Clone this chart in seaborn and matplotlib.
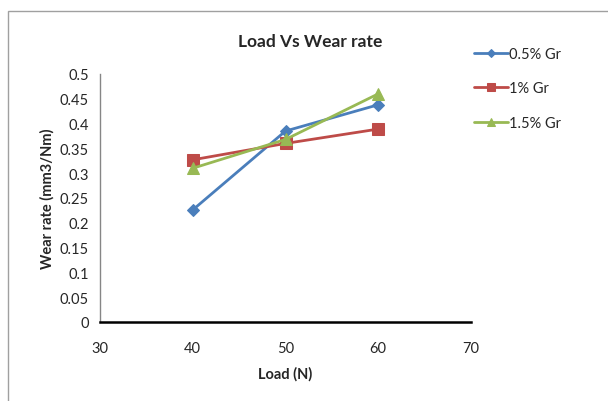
import matplotlib
matplotlib.use("Agg")
import matplotlib.pyplot as plt
import seaborn as sns
import pandas as pd
from matplotlib.patches import Rectangle

load = [40, 50, 60]
gr_05 = [0.226, 0.385, 0.438]
gr_1 = [0.327, 0.360, 0.389]
gr_15 = [0.310, 0.368, 0.460]
series_names = ["0.5% Gr", "1% Gr", "1.5% Gr"]
x_ticks = [30, 40, 50, 60, 70]
y_ticks = [0, 0.05, 0.1, 0.15, 0.2, 0.25, 0.3, 0.35, 0.4, 0.45, 0.5]
y_tick_labels = ["0", "0.05", "0.1", "0.15", "0.2", "0.25", "0.3", "0.35", "0.4", "0.45", "0.5"]

rows = []
for name, vals in zip(series_names, [gr_05, gr_1, gr_15]):
    for x, y in zip(load, vals):
        rows.append({"Load": x, "Wear": y, "Series": name})
df = pd.DataFrame(rows)

sns.set_style("white")
plt.rcParams["font.family"] = ["Lato", "DejaVu Sans"]

fig = plt.figure(figsize=(6.08, 4.02), dpi=100)
ax = fig.add_axes([100/608, 1-323/402, 371/608, 248/402])

colors = ["#4A7EBB", "#BE4B48", "#98B954"]
markers = ["D", "s", "^"]
sizes = [6, 8, 8]
for name, c, m, s in zip(series_names, colors, markers, sizes):
    sub = df[df["Series"] == name]
    sns.lineplot(data=sub, x="Load", y="Wear", ax=ax, color=c, marker=m,
                 markersize=s, markeredgecolor=c, linewidth=2, label=name)

ax.set_xlim(30, 70)
ax.set_ylim(0, 0.5)
ax.set_xticks(x_ticks)
ax.set_yticks(y_ticks)
ax.set_yticklabels(y_tick_labels)
ax.tick_params(axis="x", direction="out", length=5, width=1.5, color="black", labelsize=10.5, pad=9)
ax.tick_params(axis="y", direction="out", length=5, width=1, color="#868686", labelsize=10.5, pad=3)
for side in ["top", "right"]:
    ax.spines[side].set_visible(False)
ax.spines["bottom"].set_linewidth(1.8)
ax.spines["bottom"].set_color("black")
ax.spines["left"].set_linewidth(1)
ax.spines["left"].set_color("#868686")

ax.set_xlabel("Load (N)", fontsize=10.5, fontweight="bold", labelpad=8)
ax.set_ylabel("Wear rate (mm3/Nm)", fontsize=10.5, fontweight="bold", labelpad=4)
fig.text(310/608, 1-42/402, "Load Vs Wear rate", ha="center", va="center",
         fontsize=12.5, fontweight="bold")

ax.legend(loc="upper left", bbox_to_anchor=(474/608, 1-48/402), bbox_transform=fig.transFigure,
          frameon=False, fontsize=10.5, handlelength=2.3, handletextpad=0.1, labelspacing=1.4,
          borderaxespad=0, borderpad=0, markerscale=0.75)

fig.patches.append(Rectangle((8/608, -0.05), 1.0, 1-12/402+0.05, transform=fig.transFigure,
                             fill=False, edgecolor="#A0A0A0", linewidth=1))

fig.savefig("out.png", dpi=100)
